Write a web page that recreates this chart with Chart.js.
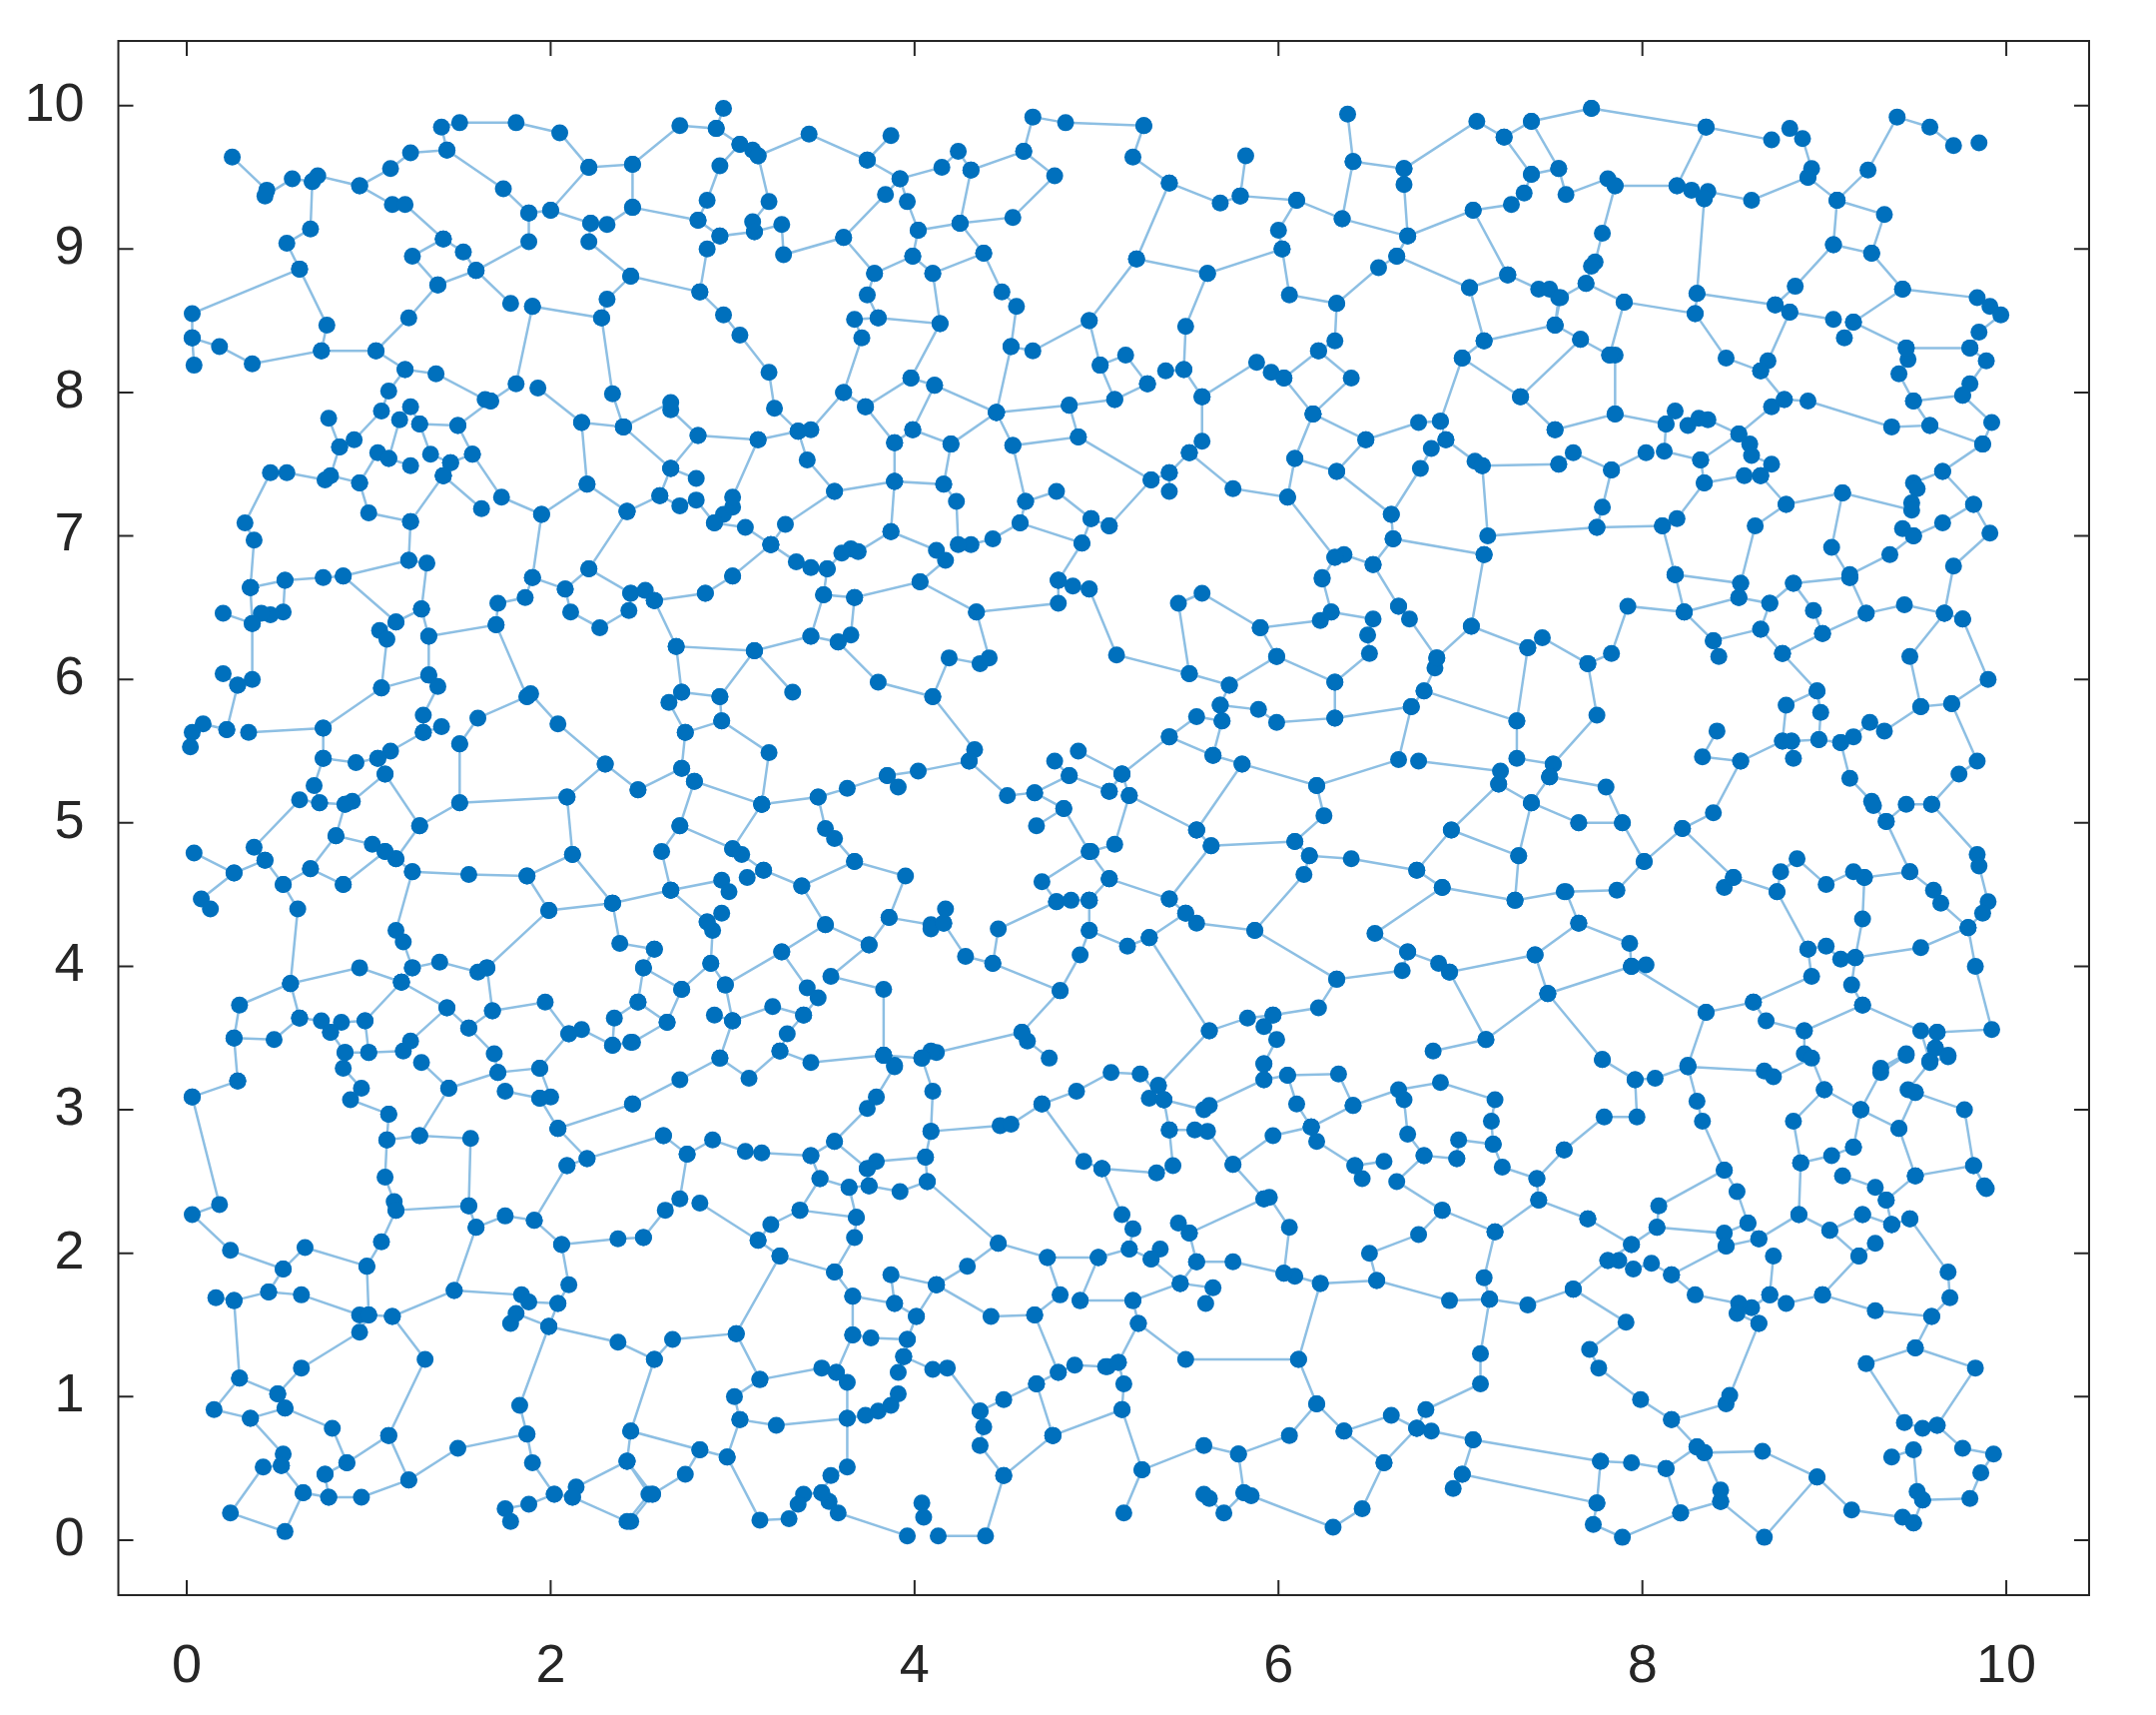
<!DOCTYPE html>
<html>
<head>
<meta charset="utf-8">
<title>network</title>
<script src="https://cdn.jsdelivr.net/npm/chart.js"></script>
<style>
html, body { margin: 0; padding: 0; background: #fff; }
canvas { display: block; }
</style>
</head>
<body>
<canvas id="netChart" width="2159" height="1717"></canvas>
<script>
// every inner list is one chain of linked nodes: x, y, x, y ...
const chainsNorthWest = [
[.25,9.64,.44,9.41,.43,9.37,.58,9.49,.69,9.47,.72,9.51,.95,9.44,1.12,9.56,1.23,9.67,1.43,9.69,1.74,9.42,1.88,9.25,2.0,9.27,2.22,9.18,2.31,9.17,2.45,9.29,2.45,9.59,2.21,9.57,2.0,9.27],
[1.43,9.69,1.40,9.85,1.50,9.88,1.81,9.88,2.05,9.81,2.21,9.57],
[.69,9.47,.68,9.14,.55,9.04,.62,8.86,.03,8.55,.03,8.38,.04,8.19],
[.03,8.38,.18,8.32,.36,8.2,.74,8.29,.77,8.47,.62,8.86],
[.74,8.29,1.04,8.29,1.22,8.52,1.38,8.75,1.59,8.85,1.78,8.62],
[1.90,8.60,2.28,8.52,2.31,8.65,2.44,8.81,2.21,9.05,2.22,9.18],
[1.88,9.25,1.88,9.05,1.59,8.85],
[.95,9.44,1.13,9.31,1.2,9.31,1.41,9.07,1.24,8.95,1.38,8.75],
[1.41,9.07,1.52,8.98,1.59,8.85],
[1.04,8.29,1.20,8.16,1.37,8.13,1.64,7.95,1.67,7.94,1.81,8.06,1.90,8.60],
[1.20,8.16,1.11,8.01,1.07,7.87,.92,7.67,.84,7.62,.78,7.82],
[1.93,8.03,2.17,7.79,2.40,7.76,2.34,7.99,2.28,8.52],
[2.17,7.79,2.20,7.36],
[1.67,7.94,1.49,7.77,1.28,7.78,1.23,7.9],
[1.17,7.81,1.11,7.54],
[1.28,7.78,1.34,7.57,1.45,7.51],
[1.49,7.77,1.57,7.57,1.45,7.51,1.41,7.42],
[1.57,7.57,1.73,7.27,1.95,7.15,2.2,7.36,2.42,7.17],
[1.41,7.42,1.62,7.19],
[1.41,7.42,1.23,7.10,1.0,7.16,.95,7.37,.79,7.42,.84,7.62],
[.95,7.37,1.05,7.58,1.11,7.54,1.23,7.49],
[.76,7.39,.55,7.44,.46,7.44,.32,7.09,.37,6.97,.35,6.64],
[1.23,7.10,1.22,6.83,.86,6.72,.75,6.71,.54,6.69,.35,6.64],
[1.95,7.15,1.90,6.71,2.08,6.63,2.21,6.77,2.42,7.17],
[1.22,6.83,1.32,6.81,1.29,6.49]
];
const chainsNorthMid = [
[2.45,9.59,2.71,9.86,2.91,9.84,2.95,9.98],
[2.91,9.84,3.04,9.73,3.11,9.69,3.14,9.65,3.42,9.80,3.74,9.62,3.87,9.79],
[3.74,9.62,3.92,9.49,4.15,9.57,4.24,9.68,4.31,9.55,4.25,9.18],
[4.31,9.55,4.60,9.68,4.65,9.92,4.83,9.88,5.26,9.86],
[4.60,9.68,4.77,9.51,4.54,9.22,4.25,9.18,4.02,9.13,3.96,9.33,3.92,9.49,3.84,9.38,3.61,9.08,3.28,8.96,3.27,9.17,3.12,9.12,2.93,9.09,2.81,9.2,2.45,9.29],
[3.04,9.73,2.93,9.58,2.86,9.34,2.81,9.2],
[3.14,9.65,3.2,9.33,3.11,9.19,3.12,9.12],
[2.93,9.09,2.86,9.0,2.82,8.70,2.44,8.81],
[2.82,8.70,2.95,8.54,3.04,8.40,3.2,8.14,3.23,7.89,3.36,7.73,3.14,7.67,2.81,7.70,2.66,7.88,2.66,7.93,2.40,7.76],
[2.81,7.70,2.66,7.47,2.40,7.76],
[2.66,7.47,2.80,7.40],
[2.66,7.47,2.60,7.28,2.42,7.17],
[2.60,7.28,2.71,7.21,2.80,7.25,2.90,7.09,2.95,7.15,3.0,7.2,3.0,7.27,3.14,7.67],
[2.90,7.09,3.07,7.06,3.21,6.94,3.29,7.08,3.56,7.31,3.89,7.38],
[3.21,6.94,3.35,6.82,3.43,6.78,3.52,6.77,3.60,6.88,3.65,6.91,3.69,6.89,3.87,7.03,4.12,6.9,4.17,6.83,4.03,6.68],
[3.21,6.94,3.0,6.72,2.85,6.6],
[3.52,6.77,3.5,6.59],
[3.36,7.73,3.43,7.74,3.61,8.0,3.71,8.38,3.67,8.51,3.80,8.52,4.14,8.48,3.98,8.10,3.73,7.9,3.61,8.0],
[3.36,7.73,3.41,7.53,3.56,7.31],
[3.73,7.9,3.89,7.65,3.89,7.38,4.16,7.36,4.20,7.64,3.99,7.74,4.11,8.05,3.98,8.10],
[3.89,7.65,3.99,7.74],
[4.11,8.05,4.45,7.86,4.20,7.64],
[4.45,7.86,4.53,8.32,4.56,8.6,4.48,8.7,4.38,8.97,4.25,9.18],
[4.45,7.86,4.85,7.91,5.10,7.95],
[4.45,7.86,4.54,7.63,4.90,7.69,4.85,7.91],
[4.54,7.63,4.61,7.24,4.78,7.31,4.97,7.12,5.07,7.07],
[4.61,7.24,4.58,7.09,4.43,6.98,4.31,6.94,4.24,6.94,4.23,7.24,4.16,7.36],
[4.58,7.09,4.92,6.95,4.97,7.12],
[4.92,6.95,4.79,6.69],
[4.53,8.32,4.65,8.29,4.96,8.5,5.02,8.19],
[4.96,8.5,5.22,8.93,5.40,9.46,5.2,9.64,5.26,9.86],
[4.14,8.48,4.10,8.83,3.99,8.95,3.78,8.83,3.74,8.68,3.80,8.52],
[3.78,8.83,3.61,9.08],
[3.99,8.95,4.02,9.13],
[4.10,8.83,4.38,8.97],
[3.89,7.38,3.87,7.03]
];
const chainsNorthEast = [
[5.40,9.46,5.68,9.32,5.79,9.37,5.82,9.65],
[5.79,9.37,6.10,9.34,6.35,9.21,6.41,9.61,6.38,9.94],
[6.41,9.61,6.69,9.56,6.69,9.45,6.71,9.09,6.35,9.21],
[6.69,9.56,7.09,9.89,7.24,9.78,7.39,9.89,7.72,9.98],
[7.24,9.78,7.39,9.52,7.35,9.39,7.28,9.31,7.07,9.27,6.71,9.09,6.65,8.95,6.55,8.87,6.32,8.62,6.06,8.68,6.02,9.0,5.61,8.83,5.22,8.93],
[6.10,9.34,6.0,9.13,6.02,9.0],
[7.39,9.89,7.54,9.56,7.39,9.52],
[7.07,9.27,7.26,8.82,7.05,8.73,6.65,8.95],
[7.26,8.82,7.43,8.72,7.49,8.72,7.54,8.66,7.52,8.47,7.13,8.36,7.05,8.73],
[7.13,8.36,7.01,8.24,7.33,7.97,7.52,7.74],
[7.01,8.24,6.89,7.8],
[5.61,8.83,5.49,8.46,5.48,8.16,5.58,7.97,5.88,8.21,5.96,8.14,6.03,8.1,6.22,8.29,6.31,8.36,6.32,8.62],
[6.22,8.29,6.40,8.1,6.19,7.85,6.03,8.1],
[5.48,8.16,5.38,8.15],
[5.28,8.06,5.16,8.26,5.02,8.19,5.10,7.95,5.28,8.06],
[5.58,7.97,5.58,7.66,5.51,7.58,5.40,7.44,5.30,7.39,4.90,7.69],
[5.30,7.39,5.07,7.07],
[5.40,7.44,5.40,7.31],
[5.51,7.58,5.75,7.33,6.05,7.27,6.09,7.54,6.19,7.85],
[6.05,7.27,6.31,6.85,6.36,6.87,6.52,6.8,6.63,6.98,7.13,6.87],
[6.63,6.98,6.62,7.15,6.32,7.45,6.09,7.54],
[6.62,7.15,6.78,7.47,6.84,7.61,6.92,7.67,7.08,7.52,7.12,7.49,7.54,7.5],
[6.32,7.45,6.48,7.67,6.19,7.85],
[6.48,7.67,6.77,7.79,6.89,7.8,6.92,7.67],
[7.12,7.49,7.15,7.0,7.75,7.06],
[6.31,6.85,6.24,6.7],
[6.52,6.8,6.66,6.51],
[7.13,6.87,7.06,6.37],
[7.72,9.98,8.35,9.85,8.71,9.76],
[8.81,9.84,8.88,9.77,8.93,9.56,8.91,9.5,9.07,9.34,9.24,9.55,9.40,9.92,9.58,9.85,9.71,9.72],
[9.85,9.74],
[8.35,9.85,8.19,9.44,7.85,9.44,7.81,9.49,7.58,9.38,7.54,9.56],
[8.19,9.44,8.27,9.41,8.34,9.35,8.36,9.40,8.60,9.34,8.91,9.5],
[7.85,9.44,7.78,9.11,7.74,8.91,7.72,8.88,7.69,8.76,7.55,8.66,7.52,8.47],
[7.69,8.76,7.90,8.63,8.29,8.55,8.3,8.69,8.34,9.35],
[8.3,8.69,8.73,8.61,8.81,8.56,9.05,8.51],
[8.73,8.61,8.84,8.74,9.05,9.03,9.26,8.97,9.43,8.72,9.84,8.66,9.91,8.6,9.97,8.54,9.85,8.42,9.80,8.31,9.45,8.31,9.46,8.23,9.41,8.13,9.49,7.94,9.58,7.77,9.37,7.76,8.91,7.94,8.78,7.95,8.71,7.9,8.53,7.71,8.59,7.64,8.6,7.56,8.71,7.5,8.65,7.42,8.79,7.22,8.62,7.07,8.54,6.67],
[9.07,9.34,9.33,9.24,9.26,8.97],
[9.07,9.34,9.05,9.03],
[9.43,8.72,9.16,8.49,9.11,8.38],
[9.16,8.49,9.45,8.31],
[9.49,7.94,9.76,7.98,9.80,8.06,9.89,8.22,9.80,8.31],
[9.76,7.98,9.92,7.79,9.87,7.64,9.58,7.77],
[9.87,7.64,9.65,7.45,9.49,7.37,9.51,7.33,9.48,7.23,9.48,7.18,9.1,7.3,8.79,7.22],
[9.65,7.45,9.82,7.22,9.91,7.02,9.71,6.79,9.66,6.46],
[9.82,7.22,9.65,7.09,9.49,7.0,9.43,7.05],
[9.49,7.0,9.36,6.87,9.14,6.73],
[9.1,7.3,9.04,6.92,9.14,6.71],
[8.83,6.67,9.14,6.71,9.23,6.46,8.99,6.32,8.77,6.18,8.65,6.35,8.39,6.27,8.42,6.16],
[8.39,6.27,8.23,6.47,8.53,6.57,8.70,6.53,8.83,6.67,8.94,6.48,8.99,6.32],
[8.70,6.53,8.65,6.35],
[9.23,6.46,9.44,6.52,9.66,6.46],
[9.76,6.42,9.66,6.46,9.47,6.16,9.53,5.81,9.70,5.83,9.90,6.0,9.76,6.42],
[7.52,7.74,7.85,7.85,8.13,7.78,8.12,7.59,8.32,7.53,8.34,7.37,8.19,7.12,8.11,7.07,7.75,7.06,7.78,7.2,7.83,7.46,8.02,7.58],
[7.83,7.46,7.62,7.58,7.54,7.5],
[8.13,7.78,8.18,7.87],
[8.25,7.77,8.31,7.82,8.36,7.81,8.53,7.71,8.32,7.53],
[8.34,7.37,8.56,7.42,8.65,7.42],
[7.85,7.85,7.85,8.26,7.82,8.26,7.90,8.63],
[7.82,8.26,7.66,8.37,7.33,7.97],
[7.66,8.37,7.52,8.47],
[8.29,8.55,8.46,8.24,8.65,8.15,8.69,8.22,8.81,8.56],
[8.65,8.15,8.78,7.95],
[8.18,6.73,8.11,7.07],
[8.18,6.73,8.54,6.67,8.53,6.57],
[8.23,6.47,8.18,6.73],
[8.23,6.47,7.92,6.51,7.83,6.18,7.70,6.11,7.75,5.75,7.51,5.41]
];
const chainsMidWest = [
[.86,6.72,1.15,6.40,1.29,6.49],
[.54,6.69,.53,6.47,.46,6.45,.41,6.46,.36,6.39,.35,6.64],
[.2,6.46,.36,6.39,.36,6.0,.28,5.96,.22,5.65,.09,5.69,.03,5.63,.02,5.53],
[.2,6.04,.28,5.96],
[.22,5.65],
[.34,5.63,.75,5.66,1.07,5.94,1.33,6.03,1.33,6.30,1.29,6.49],
[1.15,6.40,1.06,6.34,1.10,6.28,1.07,5.94],
[1.33,6.30,1.70,6.38,1.87,5.88,1.89,5.9,2.04,5.69,2.30,5.41,2.48,5.23],
[1.70,6.38,1.71,6.53,1.86,6.57,1.90,6.71],
[2.08,6.63,2.11,6.47,2.27,6.36,2.43,6.48,2.44,6.6,2.21,6.77],
[2.44,6.6,2.52,6.62,2.57,6.55],
[1.33,6.03,1.38,5.95,1.30,5.75,1.30,5.63,1.12,5.5,1.05,5.45,.93,5.42,.75,5.45,.75,5.66],
[1.30,5.63,1.40,5.67],
[.75,5.45,.70,5.26,.73,5.14,.87,5.13,.91,5.15,1.09,5.34,1.05,5.45],
[1.09,5.34,1.28,4.98,1.5,5.14,2.09,5.18,2.30,5.41],
[2.09,5.18,2.12,4.78,1.87,4.63,1.55,4.64,1.24,4.66,1.15,4.75,1.09,4.8,1.02,4.85,.82,4.91,.68,4.68,.53,4.57,.43,4.74,.37,4.83,.62,5.16,.73,5.14],
[.87,5.13,.82,4.91],
[1.28,4.98,1.15,4.75],
[.86,4.57,1.09,4.8],
[.68,4.68,.86,4.57],
[.53,4.57,.61,4.4,.57,3.88,.95,3.99,1.18,3.89,1.24,3.99,1.39,4.03,1.60,3.96,1.65,3.99,1.99,4.39,2.34,4.44,2.12,4.78],
[.04,4.79,.26,4.65,.43,4.74],
[.26,4.65,.08,4.47,.13,4.4],
[1.5,5.55,1.5,5.14],
[1.5,5.55,1.6,5.73,1.87,5.88],
[1.24,4.66,1.15,4.25,1.19,4.17,1.24,3.99],
[1.87,4.63,1.99,4.39],
[2.34,4.44,2.38,4.16,2.57,4.12],
[2.34,4.44,2.66,4.53],
[.57,3.88,.29,3.73,.26,3.50,.28,3.2],
[.26,3.50,.48,3.49,.62,3.64,.57,3.88],
[.62,3.64,.74,3.62,.79,3.54,.85,3.61,.98,3.62,1.18,3.89],
[.98,3.62,1.0,3.40,1.19,3.41,1.23,3.48,1.43,3.71,1.18,3.89],
[1.43,3.71,1.55,3.57,1.68,3.69,1.65,3.99],
[1.68,3.69,1.97,3.75,2.10,3.53,2.17,3.56,2.34,3.45,2.44,3.47],
[1.55,3.57,1.69,3.39,1.71,3.26,1.94,3.29,2.10,3.53],
[.79,3.54,.87,3.40,.86,3.29,.96,3.15,.90,3.07,1.11,2.97],
[.87,3.40,1.0,3.40],
[2.34,3.45,2.35,3.64,2.48,3.75,2.51,3.99]
];
const chainsMidCentre = [
[2.57,6.55,2.85,6.6,3.0,6.72],
[2.57,6.55,2.69,6.23,3.12,6.2,3.43,6.3,3.5,6.59,3.67,6.57,4.03,6.68,4.34,6.47,4.79,6.53,4.79,6.69],
[4.79,6.69,4.87,6.65,4.96,6.63],
[3.67,6.57,3.65,6.31,3.58,6.26,3.8,5.98,4.1,5.88,4.19,6.15,4.36,6.11,4.41,6.15,4.34,6.47],
[3.43,6.3,3.58,6.26],
[4.1,5.88,4.33,5.51,4.30,5.43],
[3.12,6.2,2.93,5.88,2.72,5.91],
[3.12,6.2,3.33,5.91],
[2.69,6.23,2.72,5.91,2.65,5.84,2.74,5.63,2.94,5.71,2.93,5.88],
[2.94,5.71,3.2,5.49,3.16,5.13,2.79,5.29,2.72,5.38,2.74,5.63],
[2.72,5.38,2.48,5.23],
[2.79,5.29,2.71,4.98,2.61,4.8,2.66,4.53,2.94,4.60,2.98,4.52],
[2.71,4.98,3.0,4.82,3.05,4.78,3.17,4.67,3.38,4.56,3.67,4.73,3.95,4.63,3.86,4.34,3.75,4.15],
[3.16,5.13,3.0,4.82],
[3.16,5.13,3.47,5.18,3.63,5.24,3.85,5.33,3.91,5.25],
[3.85,5.33,4.02,5.36,4.30,5.43,4.51,5.19,4.66,5.21,4.85,5.33,5.07,5.22],
[4.85,5.33,4.77,5.43],
[4.9,5.5,5.14,5.34],
[4.66,5.21,4.82,5.10,4.67,4.98],
[4.82,5.10,4.96,4.8,4.70,4.59,4.78,4.45],
[4.96,4.8,5.07,4.61],
[3.47,5.18,3.51,4.96,3.56,4.89,3.67,4.73],
[3.08,4.62,3.17,4.67],
[3.38,4.56,3.51,4.29,3.75,4.15,3.54,3.93,3.83,3.84,3.83,3.38],
[3.51,4.29,3.27,4.10,2.96,3.87,2.88,4.02,2.72,3.84,2.64,3.61,2.45,3.47],
[2.88,4.02,2.89,4.25,2.86,4.31,2.94,4.37],
[2.66,4.53,2.86,4.31],
[3.27,4.10,3.41,3.85,3.47,3.78,3.39,3.66,3.22,3.72,3.0,3.62,2.90,3.66],
[3.0,3.62,2.96,3.87],
[3.0,3.62,2.93,3.36],
[3.39,3.66,3.30,3.53,3.26,3.41,3.09,3.22,2.93,3.36,2.71,3.21,2.45,3.04],
[3.26,3.41,3.43,3.33,3.83,3.38],
[2.57,4.12,2.51,3.99,2.72,3.84],
[2.48,3.75,2.64,3.61],
[3.86,4.34,4.09,4.29,4.09,4.26,4.16,4.30,4.17,4.4],
[4.16,4.30,4.28,4.07,4.43,4.02,4.46,4.26,4.78,4.45,4.86,4.46,4.96,4.46],
[4.43,4.02,4.8,3.83,4.91,4.08,4.96,4.25,4.96,4.46],
[4.96,4.46,5.07,4.61],
[4.80,3.83,4.59,3.54,4.62,3.48,4.74,3.36],
[4.59,3.54,4.12,3.40,4.09,3.41,4.04,3.36,3.83,3.38],
[3.89,3.31,3.83,3.38],
[4.96,6.63,5.11,6.17,5.51,6.04,5.45,6.53,5.58,6.60,5.90,6.36,6.23,6.41,6.29,6.47,6.24,6.71],
[5.51,6.04,5.73,5.96,5.99,6.16,5.90,6.36],
[5.99,6.16,6.31,5.98,6.5,6.18,6.49,6.31,6.52,6.42,6.29,6.47],
[6.31,5.98,6.31,5.73,5.99,5.70,5.89,5.79,5.68,5.82],
[5.73,5.96,5.68,5.82,5.69,5.71,5.64,5.47],
[5.69,5.71,5.55,5.74,5.40,5.60,5.64,5.47,5.8,5.41,6.21,5.26,6.66,5.44,6.73,5.81,6.80,5.92,7.31,5.71,7.31,5.45,7.51,5.41,7.49,5.32],
[6.80,5.92,6.86,6.08,6.87,6.15,6.72,6.42,6.66,6.51],
[6.87,6.15,7.06,6.37,7.37,6.22,7.45,6.29,7.70,6.11],
[7.37,6.22,7.31,5.71],
[6.31,5.73,6.73,5.81],
[6.21,5.26,6.25,5.05,6.09,4.87,5.63,4.84,5.40,4.47,5.49,4.37,5.55,4.30,5.87,4.25,6.14,4.64,6.17,4.77,6.40,4.75,6.76,4.67,6.90,4.55,7.30,4.46,7.57,4.52],
[6.76,4.67,6.95,4.95,7.21,5.27,7.39,5.14,7.32,4.77,7.30,4.46],
[6.95,4.95,7.32,4.77],
[7.39,5.14,7.49,5.32],
[7.21,5.27,7.22,5.36,6.77,5.43],
[6.17,4.77,6.09,4.87],
[5.55,4.95,5.80,5.41],
[5.55,4.95,5.63,4.84],
[5.40,5.60,5.14,5.34,5.18,5.19,5.55,4.95],
[5.18,5.19,5.10,4.85,4.97,4.80],
[5.07,5.22,5.14,5.34],
[5.40,4.47,5.07,4.61],
[5.29,4.2,5.17,4.14,4.96,4.25],
[5.29,4.2,5.49,4.37],
[5.29,4.2,5.62,3.55,5.83,3.64,5.97,3.66,6.22,3.71,6.32,3.91,6.68,3.97,6.71,4.10,6.53,4.23,6.90,4.55],
[5.87,4.25,6.32,3.91],
[6.71,4.10,6.88,4.02,6.94,3.96,7.41,4.08,7.65,4.30],
[6.94,3.96,7.14,3.49,7.48,3.81,7.41,4.08],
[7.14,3.49,6.85,3.41],
[5.97,3.66,5.92,3.58,5.99,3.49,5.92,3.32],
[5.62,3.55,5.34,3.17],
[7.48,3.81,7.78,3.35],
[7.48,3.81,7.94,4.0],
[7.39,5.14,7.65,5.0]
];
const chainsMidEast = [
[7.49,5.32,7.80,5.25,7.89,5.0,7.65,5.0],
[7.89,5.0,8.01,4.73,8.22,4.96,8.39,5.07,8.54,5.43,8.33,5.46,8.41,5.64],
[8.54,5.43,8.77,5.57,8.82,5.57,8.97,5.58,9.09,5.56,9.16,5.60,9.25,5.70,9.33,5.64,9.53,5.81],
[8.77,5.57,8.79,5.82,8.96,5.92,8.98,5.77,8.97,5.58],
[8.83,5.45,8.82,5.57],
[8.96,5.92,8.77,6.18],
[9.09,5.56,9.14,5.31,9.26,5.15,9.27,5.12,9.34,5.01,9.45,5.13,9.59,5.13,9.74,5.34,9.84,5.43,9.70,5.83],
[9.59,5.13,9.84,4.78,9.85,4.70,9.90,4.45,9.87,4.37,9.79,4.27],
[9.34,5.01,9.47,4.66,9.60,4.53,9.64,4.44,9.79,4.27,9.83,4.0,9.92,3.56,9.62,3.54],
[9.79,4.27,9.53,4.13,9.17,4.06,9.09,4.05,9.01,4.14,8.91,4.12,8.74,4.52,8.76,4.66,8.85,4.75,9.01,4.57,9.16,4.66,9.22,4.62,9.47,4.66],
[9.22,4.62,9.21,4.33,9.17,4.06],
[8.74,4.52,8.5,4.62,8.45,4.55],
[8.5,4.62,8.22,4.96],
[8.01,4.73,7.86,4.53,7.58,4.52,7.65,4.30,7.93,4.16,7.94,4.0,8.35,3.68,8.61,3.75,8.93,3.93,8.91,4.12],
[8.02,4.01,7.94,4.0],
[8.35,3.68,8.25,3.31],
[8.61,3.75,8.68,3.62,8.89,3.55,9.21,3.73,9.15,3.87,9.17,4.06],
[9.21,3.73,9.53,3.55,9.58,3.34],
[8.89,3.55,8.89,3.39],
[9.45,3.39,9.31,3.29],
[9.62,3.54,9.61,3.43,9.58,3.34],
[9.68,3.38,9.61,3.43]
];
const chainsSouthWest = [
[.03,3.09,.28,3.2],
[.03,3.09,.18,2.34,.03,2.27,.24,2.02,.53,1.89,.65,2.04,.99,1.91,1.07,2.08,1.15,2.30,1.14,2.36,1.09,2.53,1.10,2.79,1.28,2.82,1.56,2.80,1.55,2.33,1.15,2.30],
[1.10,2.79,1.11,2.97],
[1.28,2.82,1.44,3.15,1.29,3.33],
[1.44,3.15,1.71,3.26],
[1.55,2.33,1.59,2.18,1.75,2.26,1.91,2.23,2.09,2.61],
[1.59,2.18,1.47,1.74,1.13,1.56,1.0,1.57,.95,1.45,.63,1.2,.5,1.02,.54,.92,.80,.78,.88,.54,.76,.46],
[.88,.54,1.11,.73,1.31,1.26,1.13,1.56],
[1.47,1.74,1.84,1.71,1.88,1.66,2.04,1.65,2.10,1.78,2.06,2.06,1.91,2.23],
[2.06,2.06,2.37,2.1,2.51,2.11],
[1.78,1.51,1.81,1.58,1.99,1.49,2.04,1.65],
[1.99,1.49,1.83,.94,1.87,.74,1.9,.54,2.02,.32,1.88,.25,1.75,.22,1.78,.13],
[2.02,.32,2.12,.30,2.14,.37,2.42,.55,2.44,.76],
[2.12,.30,2.42,.13,2.54,.32,2.42,.55],
[1.87,.74,1.49,.64,1.22,.42,1.11,.73],
[1.22,.42,.96,.3,.78,.3,.64,.33,.52,.52,.53,.6,.35,.85,.54,.92],
[.64,.33,.54,.06,.24,.19,.42,.51,.52,.52],
[.78,.3,.76,.46],
[.35,.85,.15,.91,.29,1.13,.5,1.02],
[.29,1.13,.26,1.67,.16,1.69],
[.26,1.67,.45,1.73,.53,1.89],
[.45,1.73,.63,1.71,.95,1.57],
[.99,1.91,1.0,1.57],
[1.99,1.49,2.37,1.38,2.57,1.26],
[2.04,2.87,2.2,2.66,2.62,2.82],
[2.04,2.87,2.45,3.04],
[2.04,2.87,1.94,3.08,2.0,3.09,1.94,3.29],
[1.75,3.13,1.94,3.08],
[2.09,2.61,2.2,2.66]
];
const chainsSouthMid = [
[2.62,2.82,2.75,2.69,2.89,2.79,3.07,2.71,3.16,2.70,3.43,2.68,3.56,2.78,3.74,3.01,3.79,3.09,3.89,3.30],
[3.56,2.78,3.74,2.59,3.79,2.64,4.06,2.67,4.09,2.85,4.10,3.13,4.04,3.36],
[4.09,2.85,4.47,2.89,4.53,2.90,4.70,3.04,4.89,3.13,5.08,3.26,5.24,3.25,5.37,3.07,5.34,3.17],
[5.37,3.07,5.29,3.08],
[4.70,3.04,4.93,2.64,5.03,2.59],
[4.06,2.67,4.07,2.5,3.92,2.43,3.75,2.47,3.64,2.46,3.48,2.52,3.43,2.68],
[3.74,2.59,3.75,2.47],
[3.64,2.46,3.68,2.25,3.67,2.11,3.56,1.87,3.26,1.98,3.14,2.09,3.21,2.2,3.37,2.3,3.48,2.52],
[3.37,2.3,3.68,2.25],
[2.75,2.69,2.71,2.38,2.63,2.3,2.51,2.11],
[2.82,2.35,3.14,2.09],
[3.26,1.98,3.02,1.44,2.67,1.40,2.57,1.26,2.44,.76,2.82,.63,2.97,.58,3.04,.84,3.24,.80,3.63,.85,3.73,.87,3.80,.90,3.87,.94,3.91,1.02],
[3.91,1.17,3.94,1.28,3.96,1.40,3.76,1.41,3.66,1.43,3.57,1.17],
[3.94,1.28,4.10,1.19,4.18,1.2,4.36,.90,4.38,.79,4.36,.66,4.49,.45,4.76,.73],
[4.36,.90,4.49,.98,4.67,1.09,4.76,.73],
[4.67,1.09,4.79,1.17,4.88,1.22,5.05,1.21],
[3.02,1.44,3.15,1.12,3.49,1.2,3.57,1.17,3.63,1.10,3.63,.85,3.63,.51,3.54,.45,3.49,.33,3.53,.27,3.58,.19,3.96,.03],
[3.49,.33,3.39,.32,3.36,.25,3.31,.15,3.15,.14,2.97,.58],
[3.15,1.12,3.01,1.0,3.04,.84],
[3.66,1.43,3.66,1.7,3.56,1.87],
[3.66,1.7,3.89,1.65,3.87,1.85,4.12,1.78,4.01,1.56,3.96,1.40],
[3.89,1.65,4.01,1.56],
[4.12,1.78,4.29,1.91,4.46,2.07,4.73,1.97,5.01,1.97],
[4.46,2.07,4.07,2.5],
[4.12,1.78,4.42,1.56,4.66,1.57,4.8,1.71,4.73,1.97],
[4.66,1.57,4.79,1.17],
[4.91,1.67,5.01,1.97],
[4.91,1.67,5.2,1.67],
[2.82,.63,2.74,.46,2.56,.32,2.44,.13],
[4.49,.45,4.39,.03,4.13,.03],
[4.04,.26,4.05,.16],
[2.42,.55,2.56,.32],
[5.37,3.07,5.59,3.0,5.62,3.03,5.92,3.21,5.92,3.32],
[5.92,3.21,6.05,3.24,6.33,3.25,6.41,3.03,6.66,3.14,6.89,3.19,7.19,3.07,7.17,2.92,7.18,2.76,7.23,2.6,7.42,2.52,7.57,2.72],
[6.05,3.24,6.10,3.04,6.18,2.88,6.41,3.03],
[6.18,2.88,6.21,2.78,6.42,2.61,6.46,2.52],
[6.42,2.61,6.58,2.64],
[6.18,2.88,5.97,2.82,5.75,2.62,5.61,2.85,5.54,2.86,5.40,2.86,5.37,3.07],
[5.40,2.86,5.42,2.61,5.33,2.56,5.03,2.59],
[5.75,2.62,5.92,2.38,5.95,2.39,6.06,2.18,6.03,1.86,6.09,1.84,6.23,1.79,6.54,1.81,6.50,2.0,6.77,2.13,6.90,2.30,7.19,2.15,7.43,2.37,7.42,2.52],
[6.90,2.30,6.65,2.5,6.80,2.68,6.98,2.66],
[6.98,2.66,6.99,2.79,7.18,2.76],
[6.69,3.07,6.71,2.83,6.80,2.68],
[5.92,2.38,5.51,2.14,5.45,2.21],
[5.51,2.14,5.55,1.94,5.75,1.94,6.03,1.86],
[5.55,1.94,5.46,1.79,5.64,1.76,5.6,1.65],
[5.46,1.79,5.30,1.96,5.35,2.03],
[5.30,1.96,5.18,2.03,5.01,1.97],
[5.03,2.59,5.14,2.27,5.2,2.17,5.18,2.03],
[5.46,1.79,5.2,1.67,5.23,1.51,5.49,1.26,6.11,1.26,6.23,1.79],
[5.23,1.51,5.12,1.24,5.15,1.09,5.14,.91,5.25,.49,5.15,.19],
[5.06,1.21,5.12,1.24],
[5.14,.91,4.76,.73],
[5.25,.49,5.59,.66,5.78,.6,6.06,.73,6.21,.95,6.11,1.26],
[6.21,.95,6.36,.76,6.62,.87,6.76,.78,6.84,.76,7.07,.70,7.77,.55],
[6.76,.78,6.81,.91,7.11,1.09,7.11,1.30,7.16,1.68],
[6.76,.78,6.58,.54,6.36,.76],
[6.58,.54,6.46,.22,6.30,.09,5.85,.31,5.81,.33,5.70,.19,5.62,.29,5.59,.32],
[5.78,.6,5.81,.33],
[7.07,.70,7.01,.46,6.96,.36],
[7.01,.46,7.75,.26],
[6.54,1.81,6.94,1.67,7.16,1.68,7.37,1.64,7.62,1.75],
[7.16,1.68,7.13,1.83,7.19,2.15],
[7.43,2.37,7.70,2.24]
];
const chainsSouthEast = [
[7.78,3.35,7.96,3.21,8.07,3.22,8.25,3.30,8.67,3.27,8.72,3.23,8.93,3.36,9.0,3.14],
[7.96,3.21,7.97,2.95,7.79,2.95,7.57,2.72],
[8.25,3.30,8.30,3.06,8.33,2.92,8.45,2.58,8.52,2.43,8.58,2.21,8.64,2.10,8.86,2.27,8.87,2.63,8.83,2.92,9.0,3.14,9.20,3.0,9.31,3.26,9.45,3.38],
[8.45,2.58,8.09,2.33,8.08,2.18,7.94,2.06],
[8.08,2.18,8.45,2.14,8.58,2.21],
[8.46,2.05,8.64,2.10],
[8.46,2.05,8.16,1.85,8.29,1.71,8.53,1.65],
[8.16,1.85,8.05,1.93,7.95,1.89],
[7.87,1.95,7.81,1.95,7.94,2.06,7.70,2.24],
[7.81,1.95,7.62,1.75],
[7.62,1.75,7.91,1.52,7.71,1.33,7.76,1.2,7.99,.98,8.16,.84,8.46,.95,8.48,1.01,8.64,1.51],
[8.16,.84,8.30,.65,8.34,.61,8.66,.62,8.96,.44,9.15,.21,9.43,.16,9.49,.12],
[8.96,.44,8.67,.02,8.43,.27,8.43,.35,8.34,.61],
[8.43,.27,8.21,.19,7.89,.02,7.73,.11,7.75,.26,7.77,.55,7.94,.54,8.13,.5,8.30,.65],
[8.13,.5,8.21,.19],
[9.20,3.0,9.41,2.87,9.50,3.12,9.46,3.14,9.58,3.33,9.68,3.37],
[9.50,3.12,9.77,3.0,9.82,2.61,9.50,2.54,9.41,2.87],
[9.20,3.0,9.16,2.74],
[9.50,2.54,9.34,2.37,9.28,2.46,9.10,2.54],
[9.37,2.2,9.34,2.37],
[9.47,2.24,9.37,2.2],
[9.21,2.27,9.37,2.2],
[9.21,2.27,9.03,2.16,8.86,2.27],
[9.03,2.16,9.19,1.98,9.28,2.07],
[9.19,1.98,8.99,1.71,8.79,1.65,8.70,1.71,8.72,1.98],
[8.99,1.71,9.28,1.6,9.59,1.56,9.69,1.69,9.68,1.87,9.47,2.24],
[8.70,1.71,8.6,1.62,8.53,1.65,8.52,1.58,8.64,1.51],
[8.87,2.63,9.04,2.68,9.16,2.74],
[9.59,1.56,9.50,1.34,9.23,1.23,9.44,.82,9.54,.78,9.62,.8,9.83,1.2,9.50,1.34],
[9.62,.8,9.76,.64,9.93,.6,9.86,.47,9.80,.29,9.54,.28,9.51,.34,9.49,.63,9.37,.58],
[9.54,.28,9.49,.12],
[9.82,2.61,9.89,2.45,9.88,2.47]
];

const xTicks = [0, 2, 4, 6, 8, 10];
const yTicks = [0, 1, 2, 3, 4, 5, 6, 7, 8, 9, 10];

const axisColor = '#262626';

// chains become one line dataset, with a NaN point breaking it between chains
function buildPoints() {
    var allChains = [].concat(chainsNorthWest, chainsNorthMid, chainsNorthEast,
        chainsMidWest, chainsMidCentre, chainsMidEast,
        chainsSouthWest, chainsSouthMid, chainsSouthEast);
    var pts = [];
    allChains.forEach(function(chain) {
        for (var i = 0; i < chain.length; i += 2) {
            pts.push({ x: chain[i], y: chain[i + 1] });
        }
        pts.push({ x: NaN, y: NaN });
    });
    return pts;
}

// box and inward ticks on all four sides, the way the original axes are drawn
const boxTicks = {
    id: 'boxTicks',
    afterDatasetsDraw: function(chart) {
        var ctx = chart.ctx, a = chart.chartArea;
        var len = 15;
        ctx.save();
        ctx.strokeStyle = axisColor;
        ctx.lineWidth = 2;
        ctx.strokeRect(a.left, a.top, a.right - a.left, a.bottom - a.top);
        ctx.beginPath();
        xTicks.forEach(function(v) {
            var px = chart.scales.x.getPixelForValue(v);
            ctx.moveTo(px, a.bottom); ctx.lineTo(px, a.bottom - len);
            ctx.moveTo(px, a.top); ctx.lineTo(px, a.top + len);
        });
        yTicks.forEach(function(v) {
            var py = chart.scales.y.getPixelForValue(v);
            ctx.moveTo(a.left, py); ctx.lineTo(a.left + len, py);
            ctx.moveTo(a.right, py); ctx.lineTo(a.right - len, py);
        });
        ctx.stroke();
        ctx.restore();
    }
};

new Chart(document.getElementById('netChart').getContext('2d'), {
    type: 'scatter',
    data: {
        datasets: [{
            data: buildPoints(),
            showLine: true,
            spanGaps: false,
            borderColor: '#8dbfe3',
            borderWidth: 2.5,
            pointRadius: 8.5,
            pointBackgroundColor: '#0070bd',
            pointBorderColor: '#0070bd',
            pointBorderWidth: 0
        }]
    },
    plugins: [boxTicks],
    options: {
        responsive: false,
        animation: false,
        layout: { padding: { top: 41, right: 67, bottom: 0, left: 0 } },
        plugins: { legend: { display: false }, tooltip: { enabled: false } },
        scales: {
            x: {
                type: 'linear',
                min: -0.376,
                max: 10.455,
                afterBuildTicks: function(axis) {
                    axis.ticks = xTicks.map(function(v) { return { value: v }; });
                },
                afterFit: function(axis) {
                    axis.height = 120;
                    axis.paddingLeft = 0;
                    axis.paddingRight = 0;
                },
                grid: { display: false },
                border: { display: false },
                ticks: {
                    color: axisColor,
                    padding: 32,
                    maxRotation: 0,
                    font: { family: '"Liberation Sans", Arial, sans-serif', size: 54 }
                }
            },
            y: {
                type: 'linear',
                min: -0.383,
                max: 10.45,
                afterBuildTicks: function(axis) {
                    axis.ticks = yTicks.map(function(v) { return { value: v }; });
                },
                afterFit: function(axis) {
                    axis.width = 118.5;
                    axis.paddingTop = 0;
                    axis.paddingBottom = 0;
                },
                grid: { display: false },
                border: { display: false },
                ticks: {
                    color: axisColor,
                    padding: 26,
                    font: { family: '"Liberation Sans", Arial, sans-serif', size: 54 }
                }
            }
        }
    }
});
</script>
</body>
</html>
